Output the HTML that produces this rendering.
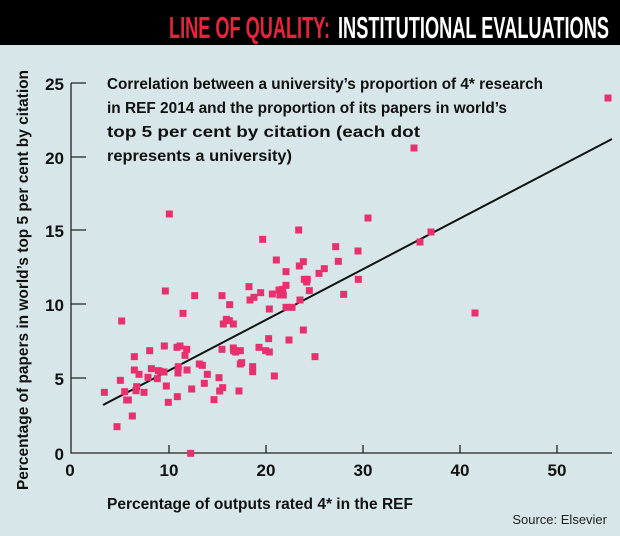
<!DOCTYPE html>
<html><head><meta charset="utf-8"><style>
html,body{margin:0;padding:0;background:#d7e6e9;}
svg{display:block;font-family:"Liberation Sans Narrow","Liberation Sans",sans-serif;font-weight:bold;}
</style></head><body>
<svg width="620" height="536" viewBox="0 0 620 536" xmlns="http://www.w3.org/2000/svg">
<rect width="620" height="536" fill="#d7e6e9"/>
<rect width="620" height="45" fill="#000"/>
<text x="169" y="38" font-size="31" fill="#e8243c" textLength="161" lengthAdjust="spacingAndGlyphs">LINE OF QUALITY:</text>
<text x="338" y="38" font-size="31" fill="#fff" textLength="271" lengthAdjust="spacingAndGlyphs">INSTITUTIONAL EVALUATIONS</text>

<g font-size="16" fill="#111">
<text x="107" y="89" textLength="436" lengthAdjust="spacingAndGlyphs">Correlation between a university’s proportion of 4* research</text>
<text x="107" y="113" textLength="400" lengthAdjust="spacingAndGlyphs">in REF 2014 and the proportion of its papers in world’s</text>
<text x="107" y="137" textLength="313" lengthAdjust="spacingAndGlyphs">top 5 per cent by citation (each dot</text>
<text x="107" y="161" textLength="185" lengthAdjust="spacingAndGlyphs">represents a university)</text>
</g>

<g stroke="#222" stroke-width="1.3" fill="none">
<path d="M71 83 V453 H612"/>
<path d="M71 83 H86 M71 157 H86 M71 230 H86 M71 304 H86 M71 378 H86"/>
<path d="M169 453 V445 M266 453 V445 M363 453 V445 M460 453 V445 M557 453 V445"/>
</g>
<g font-size="17" fill="#111" text-anchor="end">
<text x="64" y="90">25</text><text x="64" y="164">20</text><text x="64" y="237">15</text>
<text x="64" y="311">10</text><text x="64" y="385">5</text><text x="64" y="460">0</text>
</g>
<g font-size="17" fill="#111" text-anchor="middle">
<text x="70" y="476">0</text><text x="169" y="476">10</text><text x="266" y="476">20</text>
<text x="363" y="476">30</text><text x="460" y="476">40</text><text x="557" y="476">50</text>
</g>
<text x="107" y="509" font-size="16" fill="#111" textLength="306" lengthAdjust="spacingAndGlyphs">Percentage of outputs rated 4* in the REF</text>
<text x="607" y="524" font-size="13" font-weight="normal" fill="#222" text-anchor="end">Source: Elsevier</text>
<text transform="translate(28,490) rotate(-90)" font-size="16" fill="#111" textLength="420" lengthAdjust="spacingAndGlyphs">Percentage of papers in world’s top 5 per cent by citation</text>

<line x1="103" y1="405" x2="612" y2="139" stroke="#111" stroke-width="2"/>

<g fill="#e8306e">
<g transform="translate(60,200) scale(0.33333)">
<g transform="translate(-10.5,-10.5)">
<rect x="328" y="42" width="21" height="21"/><rect x="716" y="90" width="21" height="21"/><rect x="608" y="118" width="21" height="21"/>
<rect x="649" y="180" width="21" height="21"/><rect x="827" y="140" width="21" height="21"/><rect x="835" y="184" width="21" height="21"/>
<rect x="718" y="198" width="21" height="21"/><rect x="730" y="185" width="21" height="21"/><rect x="678" y="215" width="21" height="21"/>
<rect x="793" y="206" width="21" height="21"/><rect x="777" y="220" width="21" height="21"/><rect x="733" y="238" width="21" height="21"/>
<rect x="742" y="238" width="21" height="21"/><rect x="740" y="246" width="21" height="21"/><rect x="678" y="256" width="21" height="21"/>
<rect x="748" y="272" width="21" height="21"/><rect x="895" y="238" width="21" height="21"/><rect x="657" y="270" width="21" height="21"/>
<rect x="668" y="268" width="21" height="21"/><rect x="660" y="285" width="21" height="21"/><rect x="670" y="285" width="21" height="21"/>
<rect x="637" y="282" width="21" height="21"/><rect x="602" y="278" width="21" height="21"/><rect x="582" y="292" width="21" height="21"/>
<rect x="567" y="260" width="21" height="21"/><rect x="570" y="300" width="21" height="21"/><rect x="316" y="273" width="21" height="21"/>
<rect x="404" y="287" width="21" height="21"/><rect x="486" y="287" width="21" height="21"/><rect x="509" y="314" width="21" height="21"/>
<rect x="628" y="327" width="21" height="21"/><rect x="678" y="322" width="21" height="21"/><rect x="696" y="322" width="21" height="21"/>
<rect x="720" y="300" width="21" height="21"/><rect x="851" y="283" width="21" height="21"/><rect x="185" y="363" width="21" height="21"/>
<rect x="369" y="340" width="21" height="21"/><rect x="490" y="372" width="21" height="21"/><rect x="499" y="358" width="21" height="21"/>
<rect x="508" y="362" width="21" height="21"/><rect x="520" y="372" width="21" height="21"/><rect x="730" y="390" width="21" height="21"/>
<rect x="626" y="416" width="21" height="21"/><rect x="687" y="420" width="21" height="21"/><rect x="597" y="442" width="21" height="21"/>
<rect x="617" y="452" width="21" height="21"/><rect x="628" y="456" width="21" height="21"/><rect x="765" y="470" width="21" height="21"/>
<rect x="643" y="528" width="21" height="21"/><rect x="313" y="438" width="21" height="21"/><rect x="351" y="442" width="21" height="21"/>
<rect x="360" y="438" width="21" height="21"/><rect x="380" y="448" width="21" height="21"/><rect x="375" y="466" width="21" height="21"/>
<rect x="269" y="452" width="21" height="21"/><rect x="223" y="470" width="21" height="21"/><rect x="486" y="448" width="21" height="21"/>
<rect x="520" y="444" width="21" height="21"/><rect x="527" y="456" width="21" height="21"/><rect x="541" y="452" width="21" height="21"/>
<rect x="521" y="452" width="21" height="21"/><rect x="545" y="488" width="21" height="21"/><rect x="541" y="492" width="21" height="21"/>
<rect x="578" y="500" width="21" height="21"/><rect x="578" y="515" width="21" height="21"/><rect x="223" y="510" width="21" height="21"/>
<rect x="237" y="523" width="21" height="21"/><rect x="274" y="506" width="21" height="21"/><rect x="264" y="532" width="21" height="21"/>
<rect x="295" y="512" width="21" height="21"/><rect x="300" y="514" width="21" height="21"/><rect x="312" y="516" width="21" height="21"/>
<rect x="292" y="536" width="21" height="21"/><rect x="181" y="541" width="21" height="21"/><rect x="355" y="500" width="21" height="21"/>
<rect x="354" y="519" width="21" height="21"/><rect x="381" y="510" width="21" height="21"/><rect x="418" y="492" width="21" height="21"/>
<rect x="427" y="496" width="21" height="21"/><rect x="442" y="523" width="21" height="21"/><rect x="433" y="550" width="21" height="21"/>
<rect x="477" y="533" width="21" height="21"/><rect x="488" y="563" width="21" height="21"/><rect x="479" y="573" width="21" height="21"/>
<rect x="537" y="573" width="21" height="21"/><rect x="395" y="567" width="21" height="21"/><rect x="319" y="558" width="21" height="21"/>
<rect x="352" y="590" width="21" height="21"/><rect x="325" y="607" width="21" height="21"/><rect x="462" y="599" width="21" height="21"/>
<rect x="230" y="560" width="21" height="21"/><rect x="228" y="572" width="21" height="21"/><rect x="252" y="577" width="21" height="21"/>
<rect x="194" y="575" width="21" height="21"/><rect x="200" y="600" width="21" height="21"/><rect x="205" y="600" width="21" height="21"/>
<rect x="133" y="577" width="21" height="21"/><rect x="217" y="648" width="21" height="21"/><rect x="171" y="680" width="21" height="21"/>
<rect x="392" y="760" width="21" height="21"/>
</g></g>
<rect x="604.5" y="94.5" width="7" height="7"/>
<rect x="410.5" y="144.5" width="7" height="7"/>
<rect x="427.5" y="228.5" width="7" height="7"/>
<rect x="416.5" y="238.5" width="7" height="7"/>
<rect x="364.5" y="214.5" width="7" height="7"/>
<rect x="354.5" y="247.5" width="7" height="7"/>
<rect x="471.5" y="309.5" width="7" height="7"/>
</g>
</svg>
</body></html>
